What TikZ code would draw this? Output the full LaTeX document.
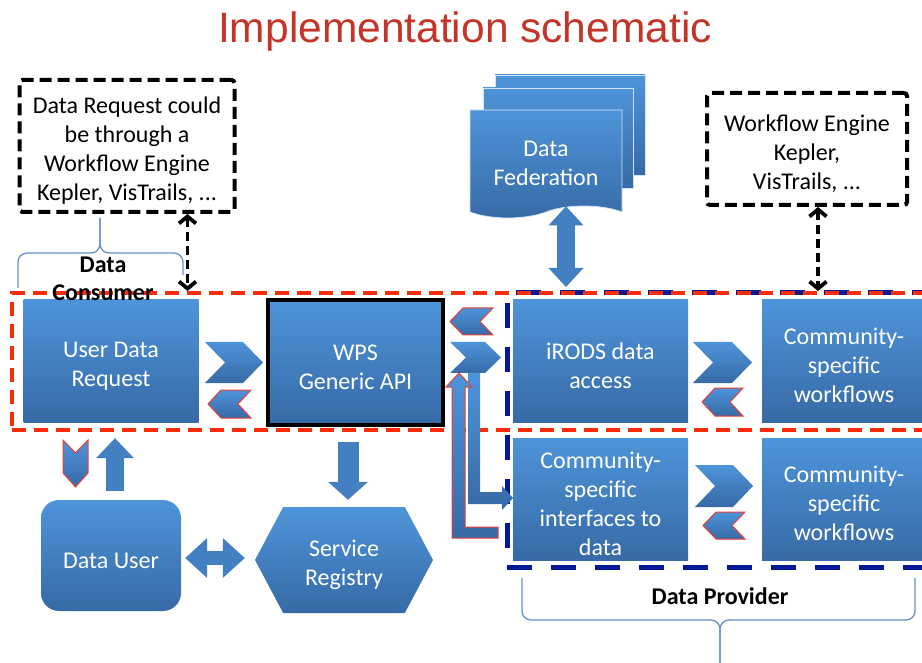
\documentclass[tikz,border=0pt]{standalone}
\usepackage{fontspec}
\setmainfont{Carlito}
\newfontfamily\headfont{Liberation Sans}
\usepackage{tikz}
\usetikzlibrary{arrows.meta, positioning, calc, shapes.symbols}

\definecolor{boxtop}{RGB}{78,148,217}
\definecolor{boxbot}{RGB}{55,106,166}
\definecolor{arrblue}{RGB}{66,128,194}
\definecolor{consred}{RGB}{250,45,10}
\definecolor{provblue}{RGB}{5,25,150}
\definecolor{bracebl}{RGB}{100,145,205}
\definecolor{headred}{RGB}{196,52,40}
\definecolor{chevred}{RGB}{238,62,52}

% taller first line, so the text sits a bit lower in its box
\newcommand{\lift}{\rule{0pt}{26pt}}

\begin{document}
\begin{tikzpicture}[
            x=1pt, y=-1pt,
            txt/.style     ={font=\fontsize{24}{29}\selectfont, align=center},
            blk/.style     ={txt, text=white, top color=boxtop, bottom color=boxbot,
                             inner sep=0pt, minimum width=175pt, minimum height=122pt},
            page/.style    ={top color=boxtop, bottom color=boxbot, draw=white!75!boxtop,
                             line width=0.8pt, inner sep=0pt},
            note/.style    ={txt, draw=black, line width=4pt, dash pattern=on 12pt off 6pt,
                             rounded corners=3pt, inner sep=0pt},
            chev/.style    ={top color=boxtop, bottom color=boxbot},
            chevback/.style={chev, draw=chevred, line width=1pt},
            blkarr/.style  ={draw=arrblue, line width=18pt},
            dasharr/.style ={line width=3.8pt, dash pattern=on 9pt off 5pt,
                             {Straight Barb[length=7pt,width=17pt]}-{Straight Barb[length=7pt,width=17pt]}},
            brace/.style   ={draw=bracebl, line width=1.3pt, rounded corners=9pt},
            lbl/.style     ={font=\fontsize{24}{28}\selectfont\bfseries, align=center, inner sep=0pt}
        ]
        \useasboundingbox (0,0) rectangle (922,663);

        \node[font=\headfont\fontsize{42.5}{50}\selectfont, text=headred] (title) at (465,32)
            {Implementation schematic};

        %% ---- dashed regions ---------------------------------------------------
        \node[draw=provblue, line width=5pt, dash pattern=on 25pt off 19pt, inner sep=0pt,
              minimum width=430pt, minimum height=274pt] (provider) at (722,430) {};
        \node[draw=consred, line width=4pt, dash pattern=on 14pt off 8pt, inner sep=0pt,
              minimum width=928pt, minimum height=137pt] (consumer) at (476,361.5) {};

        %% ---- notes on workflow engines ------------------------------------------
        \node[note, minimum width=215pt, minimum height=132pt] (reqnote) at (127,146)
            {\lift Data Request could\\be through a\\Workflow Engine\\Kepler, VisTrails, ...};
        \node[note, minimum width=200pt, minimum height=112pt] (wfnote) at (807,149)
            {\lift Workflow Engine\\Kepler,\\VisTrails, ...};

        %% ---- federation: a stack of pages ----------------------------------------
        \node[page, minimum width=150pt, minimum height=100pt] (fedpage2) at (570,125) {};
        \node[page, minimum width=150pt, minimum height=100pt] (fedpage1) at (558,138) {};
        \node[page, txt, text=white, tape, tape bend top=none, tape bend bottom=in and out,
              tape bend height=12pt, minimum width=152pt, minimum height=108pt] (fed) at (546,158)
            {\lift Data\\Federation};

        %% ---- main row ------------------------------------------------------------
        \node[blk] (udr) at (111,361) {\lift User Data\\Request};
        \node[blk, draw=black, line width=4pt, minimum height=125pt] (wps) at (355.5,362.5)
            {\lift WPS\\Generic API};
        \node[blk] (irods) at (600.5,361) {\lift iRODS data\\access};
        \node[blk, minimum width=164pt] (wfa) at (844,361) {\lift Community-\\specific\\workflows};

        % second row, inside the provider region
        \node[blk] (ifc) at (600.5,499) {\lift Community-\\specific\\interfaces to\\data};
        \node[blk, minimum width=164pt] (wfb) at (844,499) {\lift Community-\\specific\\workflows};

        % user side
        \node[blk, rounded corners=18pt, minimum width=140pt, minimum height=111pt] (duser)
            at (111,555.5) {\lift Data User};
        \node[blk, signal, signal to=east and west, signal pointer angle=124,
              minimum width=178pt, minimum height=106pt] (reg) at (344,560) {\lift Service\\Registry};

        %% ---- chevrons between the boxes ------------------------------------------
        \path[chev]     (205,342) -- (243,342) -- (263,362.5) -- (243,383) -- (205,383) -- (225,362.5) -- cycle;
        \path[chevback] (221,390) -- (251,390) -- (238,404) -- (251,418) -- (221,418) -- (208,404) -- cycle;
        \path[chevback] (463,308) -- (493,308) -- (480,321.5) -- (493,335) -- (463,335) -- (450,321.5) -- cycle;
        \path[chev]     (450,342) -- (485,342) -- (501,357.5) -- (485,373) -- (450,373) -- (466,357.5) -- cycle;
        \path[chev]     (693,342) -- (732,342) -- (752,362.5) -- (732,383) -- (693,383) -- (713,362.5) -- cycle;
        \path[chevback] (715,388) -- (743,388) -- (730,402) -- (743,416) -- (715,416) -- (702,402) -- cycle;
        \path[chev]     (695,465) -- (733,465) -- (753,486) -- (733,507) -- (695,507) -- (715,486) -- cycle;
        \path[chevback] (716,512) -- (745,512) -- (732,525.5) -- (745,539) -- (716,539) -- (703,525.5) -- cycle;
        % pointing down, from the request to the user
        \path[chevback] (63,440) -- (75.5,453) -- (88,440) -- (88,473) -- (75.5,487) -- (63,473) -- cycle;

        % bent arrows from the API down to the community interfaces
        \path[chev] (468,373) -- (468,504) -- (502,504) -- (502,510) -- (513,498) -- (502,486)
            -- (502,492) -- (480,492) -- (480,373) -- cycle;
        \path[chevback] (498,538) -- (452,538) -- (452,387) -- (446,387) -- (459,373) -- (472,387)
            -- (465,387) -- (465,527) -- (498,527) -- cycle;

        %% ---- block arrows ---------------------------------------------------------
        \draw[blkarr, {Triangle[length=19pt,width=35pt,line width=0pt]}-{Triangle[length=19pt,width=35pt,line width=0pt]},
              shorten >=4pt]
            ([xshift=20pt]fed.south) -- ([xshift=20pt]fed.south |- consumer.north);
        \draw[blkarr, -{Triangle[length=20pt,width=38pt,line width=0pt]}, shorten <=9pt, shorten >=16pt]
            ([xshift=4pt]duser.north) -- ([xshift=4pt]duser.north |- udr.south);
        \draw[blkarr, line width=21pt, -{Triangle[length=18pt,width=40pt,line width=0pt]},
              shorten <=15pt, shorten >=7pt]
            ([xshift=-7.5pt]wps.south) -- ([xshift=-7.5pt]wps.south |- reg.north);
        \draw[blkarr, line width=14pt,
              {Triangle[length=22pt,width=40pt,line width=0pt]}-{Triangle[length=22pt,width=40pt,line width=0pt]},
              shorten <=4pt, shorten >=10pt]
            ([yshift=-2.5pt]duser.east) -- ([yshift=-2.5pt]duser.east -| reg.west);

        %% ---- links to the workflow engines ----------------------------------------
        \draw[dasharr] ([xshift=-49pt]reqnote.south east) -- ([xshift=-49pt]reqnote.south east |- consumer.north);
        \draw[dasharr] ([xshift=11pt]wfnote.south) -- ([xshift=11pt]wfnote.south |- consumer.north);

        %% ---- braces and role labels -----------------------------------------------
        \draw[brace] (18,288) -- (18,253) -- (100,253) -- (100,218);
        \draw[brace] (183,275) -- (183,253) -- (100,253) -- (100,218);
        \node[lbl] (conslbl) at (103,279) {Data\\Consumer};

        \draw[brace] (522,578) -- (522,620) -- (720,620) -- (720,670);
        \draw[brace] (915,578) -- (915,620) -- (720,620) -- (720,670);
        \node[lbl] (provlbl) at (720,596) {Data Provider};
    \end{tikzpicture}
\end{document}
